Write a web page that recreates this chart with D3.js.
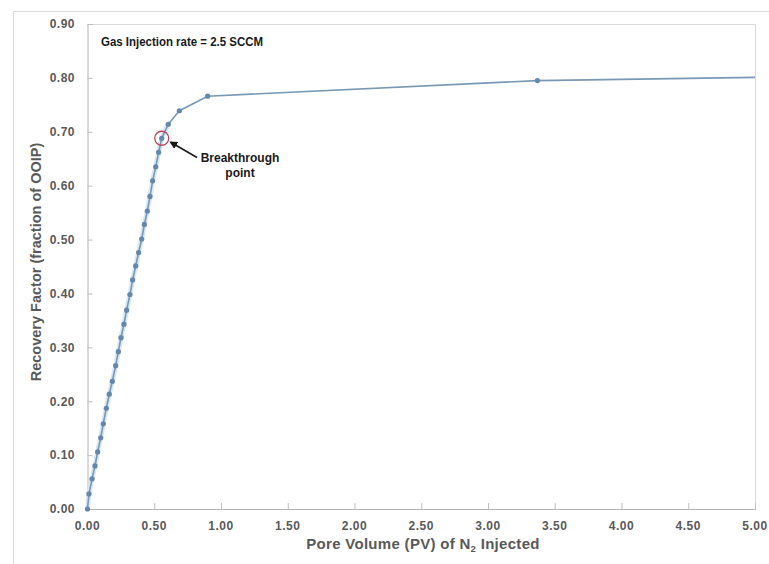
<!DOCTYPE html>
<html>
<head>
<meta charset="utf-8">
<script src="https://cdn.jsdelivr.net/npm/d3@7"></script>
<style>
  html, body { margin: 0; padding: 0; background: #fff; }
  svg { display: block; font-family: "Liberation Sans", Arial, sans-serif; }
  .tick-label { font-size: 12px; font-weight: bold; fill: #595959; letter-spacing: 0.5px; }
  .axis-title { font-weight: bold; fill: #595959; }
  .note { font-weight: bold; fill: #1a1a1a; }
</style>
</head>
<body>
<script>
// Recovery factor vs pore volumes of N2 injected
const pvInjected = [0, 0.011, 0.034, 0.056, 0.076, 0.099, 0.118, 0.141, 0.163, 0.186,
  0.211, 0.231, 0.251, 0.273, 0.293, 0.318, 0.338, 0.361, 0.383, 0.406,
  0.426, 0.448, 0.468, 0.488, 0.511, 0.533, 0.556, 0.605, 0.688, 0.900, 3.37, 5.00];
const recoveryFactor = [0, 0.028, 0.056, 0.080, 0.106, 0.132, 0.158, 0.187, 0.213, 0.237,
  0.266, 0.292, 0.318, 0.343, 0.369, 0.398, 0.425, 0.451, 0.476, 0.501,
  0.528, 0.553, 0.580, 0.609, 0.635, 0.662, 0.688, 0.714, 0.739, 0.766, 0.795, 0.801];
const breakthroughIndex = 26;

const xTicks = [0, 0.5, 1, 1.5, 2, 2.5, 3, 3.5, 4, 4.5, 5];
const yTicks = [0, 0.1, 0.2, 0.3, 0.4, 0.5, 0.6, 0.7, 0.8, 0.9];

const W = 769, H = 564;
const plot = { left: 87.5, right: 755, top: 24, bottom: 509 };

const svg = d3.select("body").append("svg").attr("width", W).attr("height", H);

// outer chart frame (top + left edges visible)
svg.append("path")
  .attr("d", `M13.5,${H} L13.5,11.5 L${W},11.5`)
  .attr("fill", "none").attr("stroke", "#dcdcdc");

const x = d3.scaleLinear().domain([0, 5]).range([plot.left, plot.right]);
const y = d3.scaleLinear().domain([0, 0.9]).range([plot.bottom, plot.top]);

// plot area border (top/right light)
svg.append("path")
  .attr("d", `M${plot.left},${plot.top + 0.5} L${plot.right + 0.5},${plot.top + 0.5} L${plot.right + 0.5},${plot.bottom}`)
  .attr("fill", "none").attr("stroke", "#d9d9d9");

// axes
const xAx = svg.append("g").attr("transform", `translate(0,${plot.bottom})`)
  .call(d3.axisBottom(x).tickValues(xTicks).tickSize(-6).tickFormat(""));
const yAx = svg.append("g").attr("transform", `translate(${plot.left},0)`)
  .call(d3.axisLeft(y).tickValues(yTicks).tickSize(-5).tickFormat(""));
[xAx, yAx].forEach(a => {
  a.selectAll("path, line").attr("stroke", "#bfbfbf");
  a.select(".domain").attr("stroke", "#b4b4b4");
});
xAx.selectAll(".tick").filter(d => d === 0).select("line").remove();
yAx.selectAll(".tick").filter(d => d === 0).select("line").remove();

svg.append("g").selectAll("text").data(xTicks).join("text")
  .attr("class", "tick-label")
  .attr("x", d => x(d)).attr("y", 530)
  .attr("text-anchor", "middle")
  .text(d => d.toFixed(2));

svg.append("g").selectAll("text").data(yTicks).join("text")
  .attr("class", "tick-label")
  .attr("x", 75).attr("y", d => y(d) + 4.3)
  .attr("text-anchor", "end")
  .text(d => d.toFixed(2));

// axis titles
const xt = svg.append("text").attr("class", "axis-title")
  .attr("font-size", "15px").attr("letter-spacing", "0.3px")
  .attr("x", 423).attr("y", 549).attr("text-anchor", "middle");
xt.append("tspan").text("Pore Volume (PV) of N");
xt.append("tspan").attr("font-size", "9.5px").attr("dy", 3).text("2");
xt.append("tspan").attr("dy", -3).text(" Injected");

svg.append("text").attr("class", "axis-title")
  .attr("font-size", "14.5px")
  .attr("transform", "translate(41,262) rotate(-90)")
  .attr("text-anchor", "middle")
  .text("Recovery Factor (fraction of OOIP)");

// series
const pts = pvInjected.map((v, i) => ({ pv: v, rf: recoveryFactor[i] }));
const line = d3.line().x(d => x(d.pv)).y(d => y(d.rf));

svg.append("path").datum(pts.slice(0, 28))
  .attr("d", line).attr("fill", "none")
  .attr("stroke", "#d6e8f6").attr("stroke-width", 5).attr("stroke-linejoin", "round");
svg.append("path").datum(pts)
  .attr("d", line).attr("fill", "none")
  .attr("stroke", "#7898b4").attr("stroke-width", 1.6).attr("stroke-linejoin", "round");

svg.append("g").selectAll("circle").data(pts.slice(0, pts.length - 1)).join("circle")
  .attr("cx", d => x(d.pv)).attr("cy", d => y(d.rf))
  .attr("r", 2.6).attr("fill", "#6487ab");

// breakthrough annotation
const bt = pts[breakthroughIndex];
svg.append("circle")
  .attr("cx", x(bt.pv)).attr("cy", y(bt.rf)).attr("r", 7)
  .attr("fill", "none").attr("stroke", "#b9475b").attr("stroke-width", 1.3);

svg.append("defs").append("marker")
  .attr("id", "arr").attr("viewBox", "0 0 10 10").attr("refX", 8).attr("refY", 5)
  .attr("markerWidth", 5).attr("markerHeight", 5).attr("orient", "auto")
  .append("path").attr("d", "M0,0 L10,5 L0,10 z").attr("fill", "#1a1a1a");

svg.append("line")
  .attr("x1", 197).attr("y1", 157.5).attr("x2", x(bt.pv) + 9).attr("y2", y(bt.rf) + 4)
  .attr("stroke", "#1a1a1a").attr("stroke-width", 1.6).attr("marker-end", "url(#arr)");

const bl = svg.append("text").attr("class", "note").attr("font-size", "12px").attr("text-anchor", "middle");
bl.append("tspan").attr("x", 240).attr("y", 162).text("Breakthrough");
bl.append("tspan").attr("x", 240).attr("y", 177).text("point");

svg.append("text").attr("class", "note").attr("font-size", "12px")
  .attr("x", 101).attr("y", 46)
  .attr("textLength", 162).attr("lengthAdjust", "spacingAndGlyphs")
  .text("Gas Injection rate = 2.5 SCCM");
</script>
</body>
</html>
